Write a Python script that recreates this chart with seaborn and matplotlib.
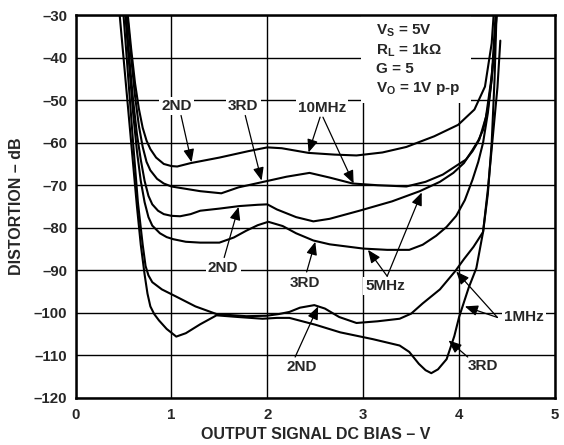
import matplotlib
matplotlib.use("Agg")
import matplotlib.pyplot as plt
import seaborn as sns
import pandas as pd
from matplotlib.patches import Rectangle

# ---------------- data ----------------
mhz10_2nd_x = [0.545, 0.58, 0.62, 0.66, 0.70, 0.74, 0.78, 0.84, 0.92, 1.0, 1.06, 1.2, 1.5, 1.8, 2.0, 2.15,
               2.43, 2.7, 2.93, 3.2, 3.45, 3.74, 3.99, 4.16, 4.27, 4.34, 4.36]
mhz10_2nd_y = [-30, -38, -46, -52, -56.5, -59.5, -61.5, -63.5, -65, -65.5, -65.6, -64.8, -63.5, -62, -61.1, -61.3,
               -62.4, -62.8, -63, -62.3, -61, -58.5, -55.8, -52.2, -46.8, -36.6, -30]

mhz10_3rd_x = [0.54, 0.58, 0.62, 0.66, 0.70, 0.74, 0.78, 0.85, 0.92, 1.0, 1.3, 1.52, 1.7, 2.0, 2.2, 2.44,
               2.65, 2.89, 3.15, 3.45, 3.65, 3.83, 4.0, 4.07, 4.14, 4.21, 4.28, 4.33, 4.37, 4.39]
mhz10_3rd_y = [-30, -40, -49, -56, -61, -64.5, -66.5, -68.5, -69.6, -70.3, -71.4, -71.9, -70.5, -69, -68, -67.1,
               -68.2, -69.6, -70, -70.3, -69.2, -67.5, -65, -64, -62, -59.3, -54, -46, -38, -30]

mhz5_2nd_x = [0.525, 0.56, 0.60, 0.64, 0.68, 0.72, 0.76, 0.80, 0.86, 0.92, 1.0, 1.09, 1.2, 1.3, 1.5, 1.71,
              1.9, 2.0, 2.1, 2.3, 2.48, 2.65, 2.96, 3.3, 3.59, 3.8, 3.94, 4.05, 4.14, 4.2, 4.25, 4.3, 4.34,
              4.37, 4.39]
mhz5_2nd_y = [-30, -40, -50, -58, -64, -69, -72.5, -74.5, -76, -76.8, -77.2, -77.3, -76.8, -76, -75.5, -74.9,
              -74.6, -74.5, -75.7, -77.5, -78.5, -77.9, -76, -73.8, -71.4, -69.2, -67.1, -64.8, -61.7, -59.5,
              -57, -52, -45, -37, -30]

mhz5_3rd_x = [0.52, 0.56, 0.60, 0.64, 0.68, 0.72, 0.76, 0.80, 0.88, 0.95, 1.02, 1.15, 1.3, 1.5, 1.65, 1.78,
              1.9, 2.01, 2.16, 2.3, 2.48, 2.65, 3.0, 3.25, 3.48, 3.62, 3.76, 3.87, 3.97, 4.06, 4.14, 4.2,
              4.25, 4.3, 4.34, 4.38]
mhz5_3rd_y = [-30, -42, -53, -62, -69, -74, -77.5, -79.5, -81.3, -82.2, -82.7, -83.3, -83.5, -83.5, -82.3,
              -80.7, -79.4, -78.6, -79.6, -81.3, -83, -83.9, -84.9, -85.2, -85.2, -84, -81.9, -79.8, -77.2,
              -73.5, -68.7, -64.5, -60, -53, -45, -30]

mhz1_2nd_x = [0.50, 0.55, 0.60, 0.65, 0.70, 0.73, 0.76, 0.80, 0.90, 1.05, 1.25, 1.47, 1.78, 1.99, 2.12, 2.23,
              2.34, 2.49, 2.6, 2.75, 2.93, 3.15, 3.38, 3.5, 3.62, 3.8, 3.96, 4.05, 4.15, 4.25, 4.3, 4.34,
              4.37, 4.39]
mhz1_2nd_y = [-30, -45, -60, -74, -84, -89, -91.2, -92.8, -94.5, -96.2, -98.5, -100.3, -100.8, -100.7, -100.3,
              -99.8, -98.8, -98.2, -99, -101, -102.4, -102, -101.4, -100.2, -97.8, -94.5, -90.2, -87.4, -84.5,
              -81, -72, -60, -45, -30]

mhz1_3rd_x = [0.46, 0.52, 0.58, 0.64, 0.68, 0.72, 0.75, 0.78, 0.82, 0.87, 0.95, 1.05, 1.15, 1.3, 1.47, 1.7,
              1.95, 2.1, 2.23, 2.5, 2.76, 3.1, 3.38, 3.48, 3.58, 3.65, 3.71, 3.78, 3.87, 3.95, 4.0, 4.1, 4.18,
              4.25, 4.3, 4.35, 4.4, 4.43]
mhz1_3rd_y = [-30, -45, -60, -75, -84, -91, -95.5, -98.5, -100.3, -101.8, -103.8, -105.6, -104.8, -102.7,
              -100.6, -101, -101.4, -101.2, -101.2, -102.8, -104.6, -106.2, -107.7, -109.2, -112, -113.5,
              -114.2, -113.3, -110.9, -105.5, -101, -94.1, -89.5, -81, -71, -59, -47, -36]

x_ticks = [0, 1, 2, 3, 4, 5]
y_ticks = [-30, -40, -50, -60, -70, -80, -90, -100, -110, -120]
x_ticklabels = ["0", "1", "2", "3", "4", "5"]
y_ticklabels = ["–30", "–40", "–50", "–60", "–70", "–80", "–90", "–100", "–110", "–120"]

curves = [
    ("10MHz 2ND", mhz10_2nd_x, mhz10_2nd_y),
    ("10MHz 3RD", mhz10_3rd_x, mhz10_3rd_y),
    ("5MHz 2ND", mhz5_2nd_x, mhz5_2nd_y),
    ("5MHz 3RD", mhz5_3rd_x, mhz5_3rd_y),
    ("1MHz 2ND", mhz1_2nd_x, mhz1_2nd_y),
    ("1MHz 3RD", mhz1_3rd_x, mhz1_3rd_y),
]

# ---------------- style ----------------
sns.set_style("white")
plt.rcParams["font.family"] = ["Liberation Sans", "DejaVu Sans"]
plt.rcParams["font.weight"] = "bold"
plt.rcParams["mathtext.fontset"] = "custom"
plt.rcParams["mathtext.rm"] = "Liberation Sans:bold"
plt.rcParams["mathtext.bf"] = "Liberation Sans:bold"
plt.rcParams["mathtext.it"] = "Liberation Sans:bold"

FS_TICK = 10.8
FS_LAB = 11.5
FS_ANN = 11

fig = plt.figure(figsize=(5.64, 4.45), dpi=100)
ax = fig.add_axes([0.134, 0.106, 0.850, 0.860])

for name, xs, ys in curves:
    df = pd.DataFrame({"x": xs, "y": ys})
    sns.lineplot(data=df, x="x", y="y", ax=ax, sort=False, estimator=None,
                 color="black", lw=1.5, zorder=3)

ax.set_xlim(0, 5)
ax.set_ylim(-120, -30)
ax.set_xticks(x_ticks)
ax.set_yticks(y_ticks)
ax.set_xticklabels(x_ticklabels, fontsize=FS_TICK, fontweight="bold")
ax.set_yticklabels(y_ticklabels, fontsize=FS_TICK, fontweight="bold")
ax.tick_params(axis="y", length=0, pad=6)
ax.tick_params(axis="x", length=0, pad=7)
ax.grid(True, color="black", lw=1.0)
ax.set_axisbelow(True)
for s in ax.spines.values():
    s.set_color("black")
    s.set_linewidth(1.8)

ax.set_xlabel("OUTPUT SIGNAL DC BIAS – V", fontsize=FS_LAB, fontweight="bold", labelpad=4)
ax.set_ylabel("DISTORTION – dB", fontsize=FS_LAB, fontweight="bold", labelpad=7)

# white box behind conditions text
ax.add_patch(Rectangle((2.98, -50.6), 1.14, 20.6, facecolor="white", edgecolor="none", zorder=1.5))
cond = [r"V$_\mathbf{S}$ = 5V", r"R$_\mathbf{L}$ = 1kΩ", "G = 5", r"V$_\mathbf{O}$ = 1V p-p"]
for i, t in enumerate(cond):
    ax.text(3.13, -33.6 - i * 4.57, t, fontsize=FS_ANN, fontweight="bold", ha="left", va="center", zorder=4)

bb = dict(facecolor="white", edgecolor="none", pad=1.5)
ap = dict(arrowstyle="-|>,head_length=0.6,head_width=0.25", color="black", lw=0.9,
          mutation_scale=13, shrinkA=0, shrinkB=0)


def label(txt, pos, tails_tips):
    ax.text(pos[0], pos[1], txt, fontsize=FS_ANN, fontweight="bold", ha="center", va="center",
            bbox=bb, zorder=4)
    for tail, tip in tails_tips:
        ax.annotate("", xy=tip, xytext=tail, arrowprops=ap, zorder=4)


label("2ND", (1.05, -51.3), [((1.10, -53.6), (1.21, -64.6))])
label("3RD", (1.75, -51.3), [((1.77, -53.6), (1.94, -68.9))])
label("10MHz", (2.57, -51.9), [((2.55, -54.0), (2.43, -62.3)), ((2.58, -54.0), (2.90, -69.6))])
label("2ND", (1.54, -89.4), [((1.55, -87.0), (1.70, -75.1))])
label("3RD", (2.39, -92.9), [((2.41, -90.4), (2.50, -83.3))])
label("5MHz", (3.23, -93.7), [((3.25, -91.4), (3.05, -85.2)), ((3.25, -91.4), (3.61, -71.7))])
label("1MHz", (4.68, -101.1), [((4.40, -101.1), (3.97, -90.3)), ((4.40, -101.1), (4.06, -98.5))])
label("2ND", (2.36, -112.8), [((2.29, -110.4), (2.53, -98.5))])
label("3RD", (4.25, -112.5), [((4.09, -110.4), (3.89, -106.5))])

fig.savefig("out.png", dpi=100)
